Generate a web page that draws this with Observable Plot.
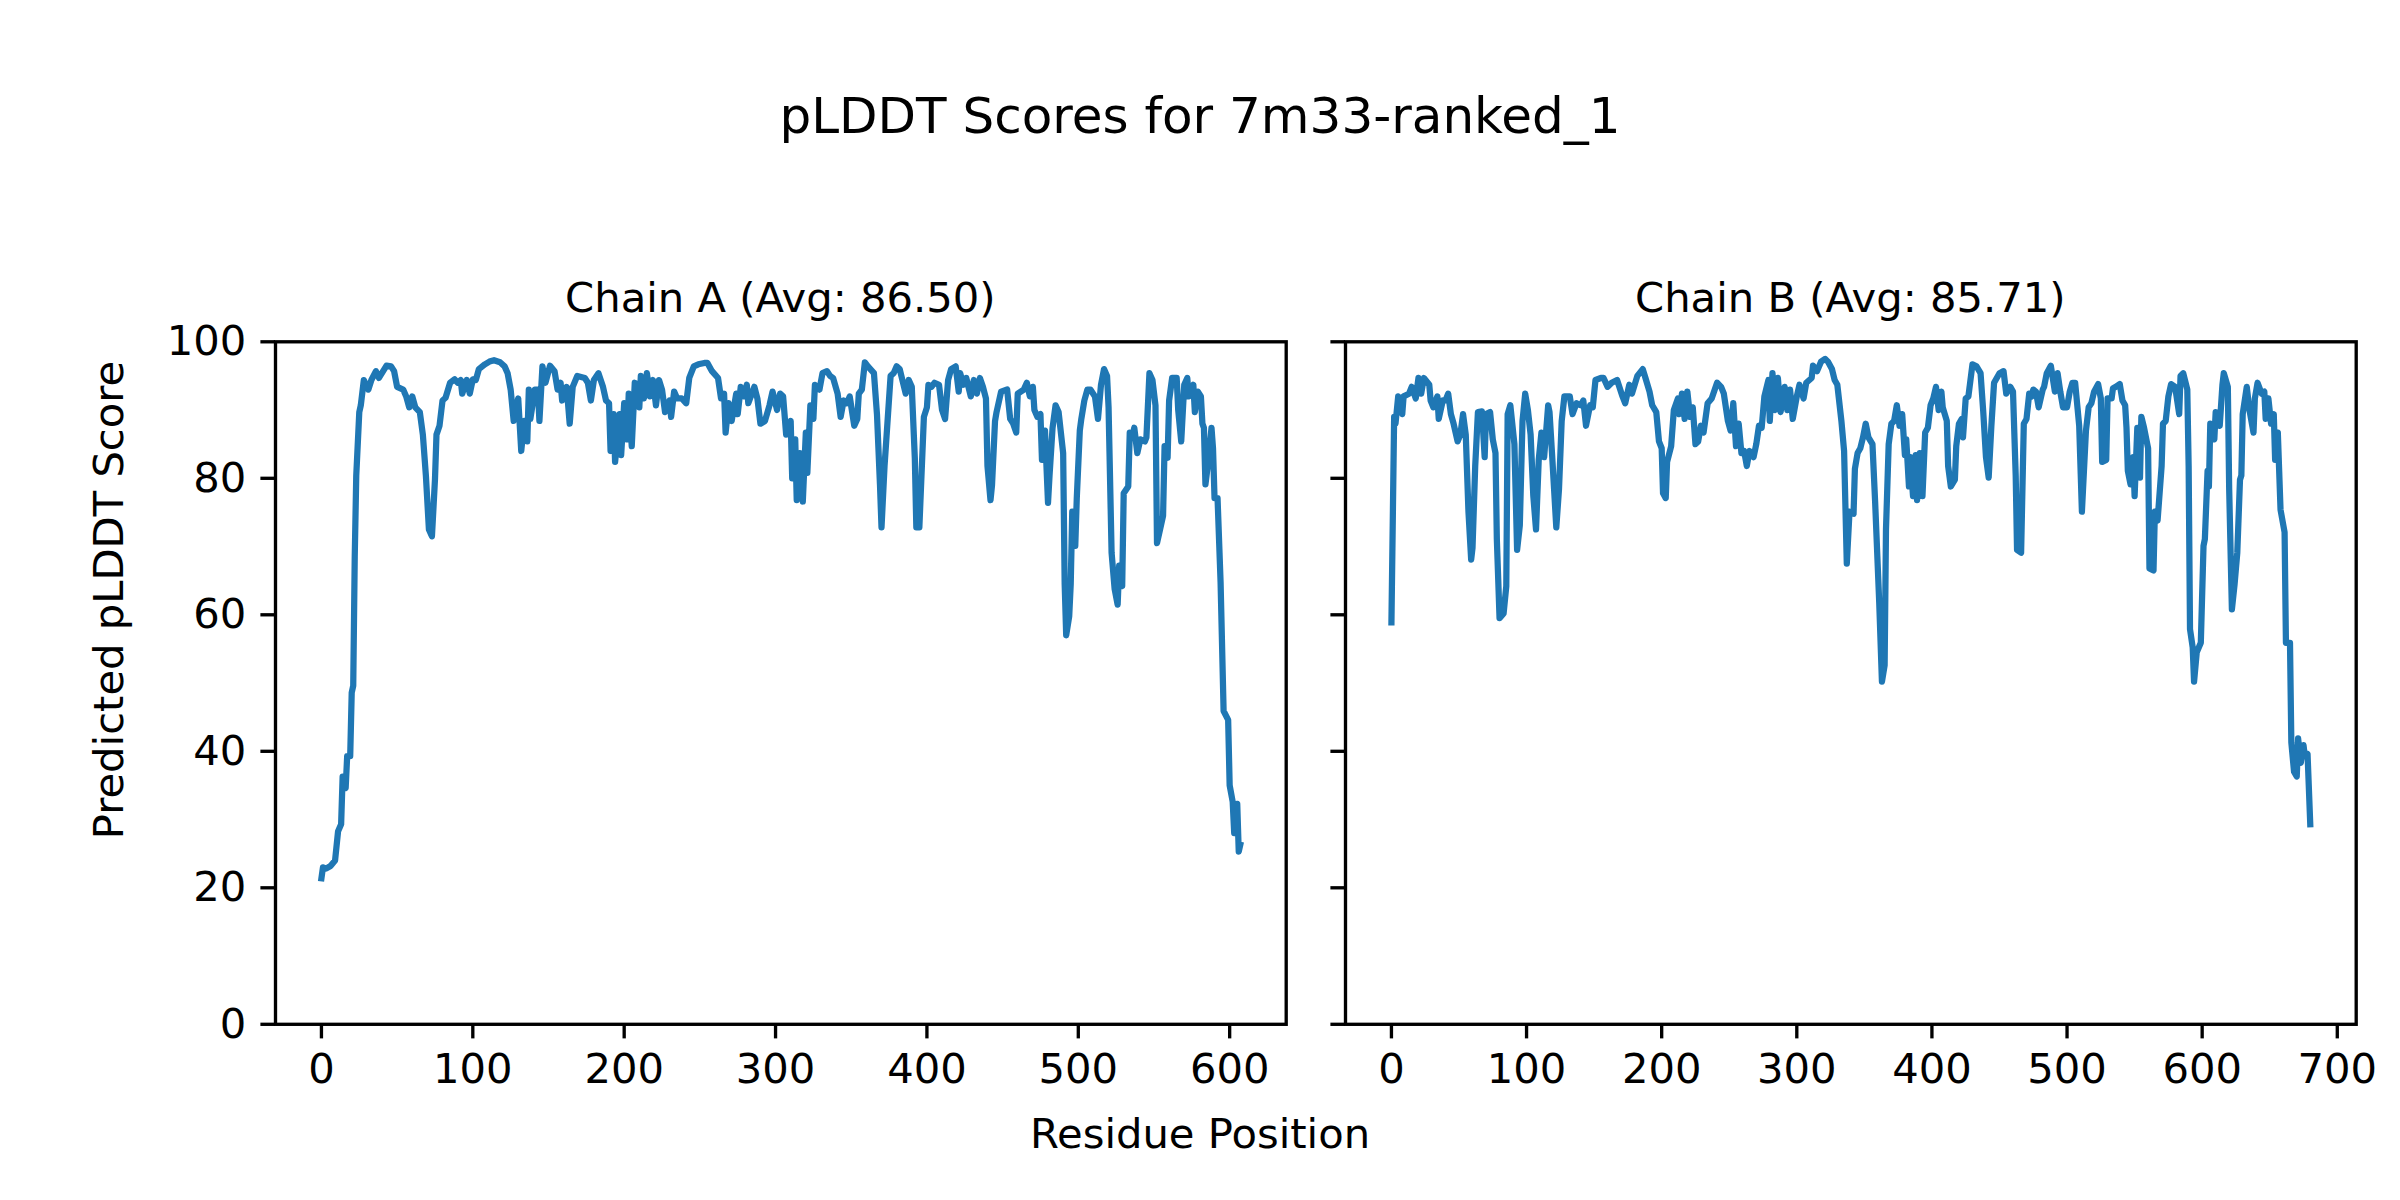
<!DOCTYPE html>
<html>
<head>
<meta charset="utf-8">
<script src="https://cdn.jsdelivr.net/npm/d3@7"></script>
<script src="https://cdn.jsdelivr.net/npm/@observablehq/plot@0.6"></script>
<style>
  html, body { margin: 0; padding: 0; background: #ffffff; }
  #fig { position: relative; width: 2400px; height: 1200px; background: #ffffff; font-family: "DejaVu Sans", sans-serif; color: #000; overflow: hidden; }
  .txt { position: absolute; white-space: nowrap; font-family: "DejaVu Sans", sans-serif; color: #000; line-height: 1; }
  .panel { position: absolute; top: 0; }
</style>
</head>
<body>
<div id="fig"></div>
<script>
// ---------------- data ----------------
const figTitle = "pLDDT Scores for 7m33-ranked_1";
const xLabel = "Residue Position";
const yLabel = "Predicted pLDDT Score";
const chainNames = ["Chain A (Avg: 86.50)", "Chain B (Avg: 85.71)"];

const chainAResidue = [0,1,3,6,9,11,13,14,16,17,19,20,21,22,23,25,26,28,31,33,36,38,43,46,48,50,54,56,58,60,62,65,67,69,71,73,75,76,78,80,82,85,88,90,92,93,96,98,100,102,104,108,111,114,118,121,123,125,127,130,132,134,136,137,138,141,143,144,146,148,151,154,156,158,159,162,164,166,169,174,176,178,180,183,186,188,190,191,193,194,197,198,200,202,203,205,207,209,210,211,213,215,217,219,221,223,225,227,230,231,233,235,238,241,243,246,249,253,255,258,262,264,266,267,269,271,274,275,277,279,281,282,286,288,290,293,296,298,301,303,305,307,310,311,313,314,316,318,320,321,323,325,326,329,331,334,336,338,341,343,345,347,349,352,354,355,357,359,361,365,367,369,370,372,374,376,378,380,382,386,388,390,392,393,395,398,400,401,403,405,408,410,412,414,416,419,421,422,424,426,429,431,433,435,437,439,440,442,443,445,446,449,453,455,457,459,460,464,466,468,470,471,473,475,476,478,480,481,483,485,487,490,491,492,494,495,496,498,499,501,502,504,506,508,511,513,515,517,519,520,522,524,526,527,529,530,533,534,536,537,539,541,544,545,547,549,551,552,554,556,557,559,560,562,565,566,568,570,572,573,576,577,579,581,582,583,584,586,588,589,590,592,594,596,599,600,602,603,605,606,607];
const chainAScore = [21.4,23.0,22.8,23.2,24.0,28.3,29.3,36.3,34.6,39.3,39.3,48.6,49.6,68.5,80.4,89.7,90.7,94.4,93.0,94.4,95.7,94.7,96.5,96.4,95.7,93.4,93.0,92.0,90.4,92.0,90.4,89.7,86.4,80.4,72.5,71.5,79.8,86.4,87.7,91.4,91.8,94.0,94.5,94.0,94.4,92.4,94.4,92.4,94.5,94.4,96.0,96.7,97.1,97.3,97.0,96.4,95.4,93.0,88.4,91.7,84.0,88.4,85.4,93.0,88.7,93.0,93.0,88.4,96.4,94.0,96.5,95.7,93.0,94.0,91.4,93.4,88.0,93.4,95.0,94.7,94.0,91.4,94.4,95.4,93.4,91.4,91.0,84.0,89.4,82.4,89.4,83.4,91.0,85.7,92.4,84.7,94.0,93.7,90.4,95.0,91.7,95.4,92.0,94.4,90.7,94.4,93.0,89.7,91.4,89.0,92.7,91.7,91.7,91.0,94.7,96.4,96.7,96.9,96.9,95.7,94.7,91.7,92.4,86.7,91.0,88.4,92.4,89.4,93.4,92.0,93.7,91.0,93.4,91.7,88.0,88.4,90.7,92.7,90.0,92.4,92.0,86.4,88.4,80.0,85.7,76.8,83.7,76.6,86.7,80.8,90.7,88.7,93.7,93.0,95.4,95.7,95.0,94.7,92.4,89.0,91.4,91.0,92.0,87.7,88.7,92.4,93.0,97.0,96.4,95.4,89.4,79.0,72.8,81.8,88.4,95.0,95.4,96.4,96.0,92.4,94.4,93.4,83.0,72.8,72.8,89.0,90.4,93.7,93.4,94.0,93.7,90.0,88.7,94.4,96.0,96.4,92.7,95.4,93.7,94.7,92.0,94.4,92.4,94.7,93.4,91.7,81.8,76.8,79.0,88.4,89.7,92.7,93.0,88.7,88.0,86.7,92.4,93.0,94.0,92.0,93.4,90.0,89.0,89.4,82.7,87.0,76.4,80.4,87.4,90.7,89.7,83.7,64.5,57.0,59.8,64.5,75.1,70.1,77.1,87.0,88.7,91.4,93.0,93.0,92.0,88.7,93.7,96.0,95.0,90.4,69.1,63.8,61.5,67.2,64.2,77.8,78.8,86.7,86.4,87.4,83.7,85.7,85.4,86.0,95.4,94.4,90.7,70.5,72.5,74.5,84.7,83.0,91.4,94.7,94.7,90.0,85.4,93.7,94.7,92.0,93.7,89.7,92.7,92.0,88.0,87.4,79.1,82.7,87.4,84.4,77.1,77.1,64.8,45.9,44.6,35.0,32.6,28.0,32.3,25.3,26.3];

const chainBResidue = [0,2,3,5,8,9,13,15,18,20,22,24,28,29,31,34,35,38,40,42,44,46,49,51,53,55,57,59,60,62,64,67,69,70,73,75,77,78,80,83,85,86,88,91,93,95,97,99,101,103,105,107,109,111,113,116,117,119,122,124,126,128,132,134,137,140,142,144,147,149,151,155,157,160,163,167,171,173,176,178,182,186,188,191,193,196,198,200,201,203,204,207,209,212,213,215,217,219,221,223,225,227,229,231,234,237,241,244,246,249,251,253,255,257,259,261,263,265,268,270,272,274,276,279,280,282,284,286,288,291,293,295,297,300,302,305,307,311,312,315,318,321,323,326,328,330,333,335,337,339,342,343,345,347,349,351,353,356,358,361,363,365,366,368,370,372,374,376,378,380,381,383,384,386,388,389,391,393,395,397,399,401,403,405,407,408,411,412,414,417,418,420,422,423,425,427,430,433,436,438,440,442,444,446,448,450,453,455,458,460,462,463,466,468,470,472,474,475,477,479,482,483,485,488,491,493,495,497,500,502,504,506,509,511,514,516,518,520,523,525,526,529,530,533,534,536,539,541,543,544,545,547,549,550,552,554,555,557,560,561,564,565,567,570,571,573,575,577,580,583,584,586,589,590,591,593,594,596,599,601,602,604,605,606,609,610,613,615,616,619,620,622,624,626,628,629,630,633,635,638,639,641,644,646,647,649,651,653,654,656,658,661,662,665,666,668,670,671,673,675,676,678,680];
const chainBScore = [58.9,89.0,88.0,92.0,89.4,92.0,92.4,93.4,91.7,94.7,92.4,94.7,93.7,91.4,90.4,92.0,88.7,91.4,91.4,92.4,89.4,88.0,85.4,86.4,89.4,86.4,75.1,68.1,69.8,81.8,89.7,89.8,83.1,89.4,89.7,85.7,83.7,71.1,59.5,60.2,64.2,89.4,90.7,85.0,69.5,73.1,88.4,92.4,90.0,86.4,77.4,72.5,82.7,86.7,83.1,90.7,89.7,83.1,72.8,78.4,88.4,92.0,92.0,89.4,91.0,90.7,91.4,87.7,90.7,90.4,94.4,94.7,94.7,93.4,94.0,94.4,92.0,91.0,93.7,92.4,95.0,96.0,94.7,92.7,90.7,89.7,85.4,84.4,77.8,77.1,82.4,84.7,90.0,91.7,89.4,92.4,88.7,92.7,89.0,90.4,85.0,85.4,87.7,86.7,91.0,91.7,94.0,93.4,92.4,88.4,87.0,91.0,84.7,88.0,83.7,84.0,81.8,84.0,83.1,85.0,87.7,87.4,92.0,94.4,88.4,95.4,90.0,94.7,89.7,93.4,90.0,93.0,88.7,92.0,93.7,91.7,94.0,94.7,96.5,95.7,97.1,97.5,97.1,96.0,94.4,93.7,88.4,84.0,67.5,75.1,74.8,81.4,83.7,84.4,86.0,88.0,86.0,85.0,76.4,61.8,50.2,52.6,72.5,85.0,88.0,88.4,90.7,87.7,89.4,83.4,85.7,78.8,83.1,77.4,83.4,76.8,83.7,77.4,86.7,87.4,90.7,91.7,93.4,90.0,92.7,90.4,88.4,81.8,78.8,79.8,84.7,88.0,88.7,86.0,91.7,92.0,96.7,96.4,95.4,89.7,83.1,80.1,87.7,94.0,94.7,95.4,95.7,92.4,93.4,92.7,80.4,69.5,69.1,88.0,88.7,92.4,92.0,93.0,92.7,90.4,93.0,93.4,95.4,96.5,92.7,95.4,92.7,90.4,90.4,92.7,94.0,94.0,87.7,75.1,87.0,90.4,91.0,92.7,93.8,91.7,82.4,82.7,91.7,91.7,93.2,93.4,93.8,91.4,90.7,87.4,81.1,79.1,83.1,77.4,87.4,80.1,89.0,87.4,84.4,66.8,66.5,75.1,73.8,81.8,88.0,88.4,92.0,93.8,93.4,89.4,95.0,95.4,93.0,81.8,57.9,55.2,50.2,54.5,55.9,70.1,71.1,81.1,78.8,88.0,85.7,89.7,87.7,93.7,95.4,93.4,78.4,60.8,64.5,69.1,79.8,80.4,89.4,93.4,90.0,86.7,91.7,94.0,92.4,92.7,88.7,91.7,88.0,89.4,82.7,86.7,75.4,72.1,55.9,55.9,41.3,37.0,36.3,41.9,38.3,40.9,39.3,39.6,29.3];

const xTicksA = [0, 100, 200, 300, 400, 500, 600];
const xTicksB = [0, 100, 200, 300, 400, 500, 600, 700];
const yTicks = [0, 20, 40, 60, 80, 100];

// ---------------- build ----------------
const dataA = chainAResidue.map((r, i) => ({r, s: chainAScore[i]}));
const dataB = chainBResidue.map((r, i) => ({r, s: chainBScore[i]}));

const W = 2400, H = 1200;
const plotTop = 341.3, plotBottom = 1023.8;
const LW = 6.25, SW = 3.33, TICK = 14.6, PAD = 14.6, FS = 41.7;

function panel(data, xDomain, xTicks, left, width, marginLeft, marginRight, showYLabels) {
  const chart = Plot.plot({
    width, height: H,
    marginLeft, marginRight,
    marginTop: plotTop, marginBottom: H - plotBottom,
    style: {fontFamily: "DejaVu Sans", fontSize: FS + "px", color: "#000", background: "transparent", maxWidth: "none", overflow: "visible"},
    x: {domain: xDomain},
    y: {domain: [0, 100]},
    marks: [
      Plot.line(data, {x: "r", y: "s", stroke: "#1f77b4", strokeWidth: LW, strokeLinejoin: "round", strokeLinecap: "square"}),
      Plot.axisX({ticks: xTicks, tickSize: TICK, tickPadding: PAD, strokeWidth: SW, fontSize: FS, label: null, tickFormat: d => String(d)}),
      Plot.axisY({ticks: yTicks, tickSize: TICK, tickPadding: PAD, strokeWidth: SW, fontSize: FS, label: null, tickFormat: showYLabels ? (d => String(d)) : (() => "")}),
      Plot.frame({stroke: "#000", strokeWidth: SW})
    ]
  });
  const wrap = document.createElement("div");
  wrap.className = "panel";
  wrap.style.left = left + "px";
  wrap.appendChild(chart);
  return wrap;
}

const fig = document.getElementById("fig");
// Axes A: x from 275 to 1285.7 ; Axes B: 1345 to 2355.7
fig.appendChild(panel(dataA, [-30.35, 637.35], xTicksA, 0, 1310, 275, 1310 - 1285.7, true));
fig.appendChild(panel(dataB, [-34, 714], xTicksB, 1310, 1090, 1345 - 1310, W - 2355.7, false));

function addText(str, x, baseline, size, opts = {}) {
  const d = document.createElement("div");
  d.className = "txt";
  d.textContent = str;
  d.style.fontSize = size + "px";
  d.style.left = x + "px";
  d.style.top = (baseline - size * 0.93) + "px";
  d.style.transform = opts.transform || "translateX(-50%)";
  if (opts.origin) d.style.transformOrigin = opts.origin;
  fig.appendChild(d);
  return d;
}
addText(figTitle, 1200, 137, 50);
addText(chainNames[0], (275 + 1285.7) / 2, 316, FS);
addText(chainNames[1], (1345 + 2355.7) / 2, 316, FS);
addText(xLabel, 1200, 1152, FS);

// rotated y label
const yl = document.createElement("div");
yl.className = "txt";
yl.textContent = yLabel;
yl.style.fontSize = FS + "px";
yl.style.left = "0px";
yl.style.top = "0px";
yl.style.transformOrigin = "0 0";
// place so that the baseline sits at x≈127 and the text is centered at y=600
yl.style.transform = "translate(" + (127 - FS * 0.93) + "px, 600px) rotate(-90deg) translateX(-50%)";
fig.appendChild(yl);
</script>
</body>
</html>
